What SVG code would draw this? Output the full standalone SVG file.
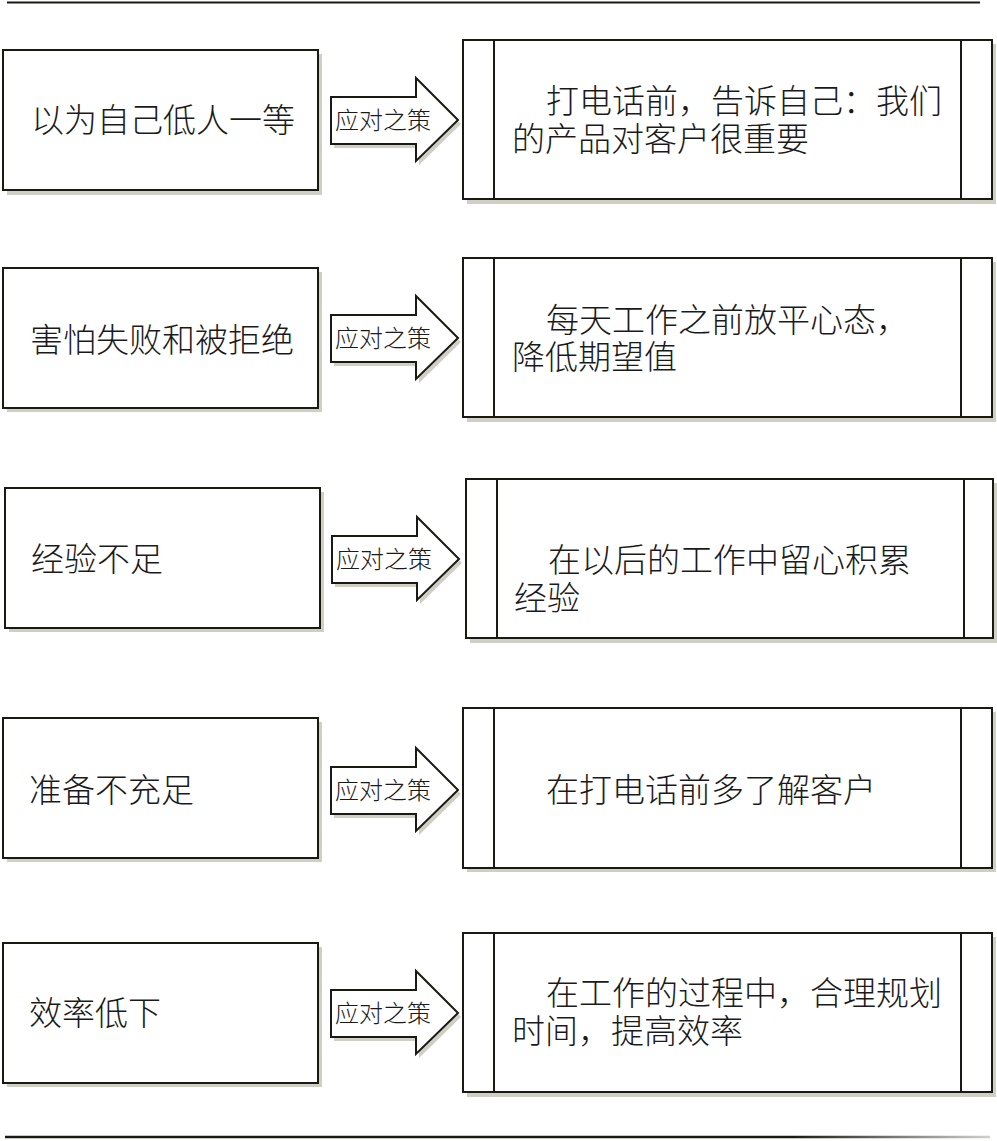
<svg xmlns="http://www.w3.org/2000/svg" width="997" height="1141" viewBox="0 0 997 1141">
<defs>
<linearGradient id="fade" gradientUnits="userSpaceOnUse" x1="5" y1="0" x2="990" y2="0">
<stop offset="0" stop-color="#1a1a12"/>
<stop offset="0.8" stop-color="#1a1a12"/>
<stop offset="1" stop-color="#1a1a12" stop-opacity="0.2"/>
</linearGradient>
<path id="arr" d="M0,0 H85 V-19 L127,23 L85,64 V47 H0 Z"/>
</defs>
<style>
.box{fill:#fff;stroke:#1a1a12;stroke-width:2}
.sh{fill:#cfcfc6}
.ln{stroke:#1a1a12;stroke-width:2;fill:none}
.t{font-family:"Liberation Serif","Noto Sans CJK SC",serif;font-size:33px;font-weight:300;fill:#1a1a1a}
.a{font-family:"Liberation Serif","Noto Sans CJK SC",serif;font-size:24px;font-weight:300;fill:#1a1a1a}
</style>
<rect width="997" height="1141" fill="#fff"/>
<line x1="7" y1="2.5" x2="980" y2="2.5" stroke="#1a1a12" stroke-width="2"/>
<line x1="5" y1="1137" x2="990" y2="1137" stroke="url(#fade)" stroke-width="2.5"/>

<g id="connectors">
<g transform="translate(331,97)"><use href="#arr" x="3" y="4" class="sh"/><use href="#arr" class="box"/><text class="a" x="4" y="32">应对之策</text></g>
<g transform="translate(331,315)"><use href="#arr" x="3" y="4" class="sh"/><use href="#arr" class="box"/><text class="a" x="4" y="32">应对之策</text></g>
<g transform="translate(332,536)"><use href="#arr" x="3" y="4" class="sh"/><use href="#arr" class="box"/><text class="a" x="4" y="32">应对之策</text></g>
<g transform="translate(331,767)"><use href="#arr" x="3" y="4" class="sh"/><use href="#arr" class="box"/><text class="a" x="4" y="32">应对之策</text></g>
<g transform="translate(331,990)"><use href="#arr" x="3" y="4" class="sh"/><use href="#arr" class="box"/><text class="a" x="4" y="32">应对之策</text></g>
</g>

<g id="problem1"><rect class="sh" x="7" y="54" width="315" height="141"/><rect class="box" x="3" y="50" width="315" height="140"/><text class="t" x="31" y="132">以为自己低人一等</text></g>
<g id="problem2"><rect class="sh" x="7" y="272" width="315" height="140"/><rect class="box" x="3" y="268" width="315" height="140"/><text class="t" x="30" y="352">害怕失败和被拒绝</text></g>
<g id="problem3"><rect class="sh" x="9" y="492" width="315" height="140"/><rect class="box" x="5" y="488" width="315" height="140"/><text class="t" x="31" y="571">经验不足</text></g>
<g id="problem4"><rect class="sh" x="7" y="722" width="315" height="140"/><rect class="box" x="3" y="718" width="315" height="140"/><text class="t" x="29" y="802">准备不充足</text></g>
<g id="problem5"><rect class="sh" x="7" y="947" width="315" height="140"/><rect class="box" x="3" y="943" width="315" height="140"/><text class="t" x="29" y="1025">效率低下</text></g>

<g id="solution1"><rect class="sh" x="467" y="44" width="529" height="160"/><rect class="box" x="463" y="40" width="529" height="159"/><line class="ln" x1="494" y1="40" x2="494" y2="199"/><line class="ln" x1="961" y1="40" x2="961" y2="199"/>
<text class="t" x="546" y="113">打电话前，告诉自己：我们</text><text class="t" x="512" y="151">的产品对客户很重要</text></g>
<g id="solution2"><rect class="sh" x="467" y="262" width="529" height="160"/><rect class="box" x="463" y="258" width="529" height="159"/><line class="ln" x1="494" y1="258" x2="494" y2="417"/><line class="ln" x1="961" y1="258" x2="961" y2="417"/>
<text class="t" x="546" y="332">每天工作之前放平心态，</text><text class="t" x="512" y="369">降低期望值</text></g>
<g id="solution3"><rect class="sh" x="470" y="483" width="528" height="160"/><rect class="box" x="466" y="479" width="527" height="159"/><line class="ln" x1="497" y1="479" x2="497" y2="638"/><line class="ln" x1="964" y1="479" x2="964" y2="638"/>
<text class="t" x="548" y="572">在以后的工作中留心积累</text><text class="t" x="514" y="610">经验</text></g>
<g id="solution4"><rect class="sh" x="467" y="712" width="529" height="160"/><rect class="box" x="463" y="708" width="529" height="160"/><line class="ln" x1="494" y1="708" x2="494" y2="868"/><line class="ln" x1="961" y1="708" x2="961" y2="868"/>
<text class="t" x="546" y="802">在打电话前多了解客户</text></g>
<g id="solution5"><rect class="sh" x="467" y="937" width="529" height="160"/><rect class="box" x="463" y="933" width="529" height="159"/><line class="ln" x1="494" y1="933" x2="494" y2="1092"/><line class="ln" x1="961" y1="933" x2="961" y2="1092"/>
<text class="t" x="546" y="1005">在工作的过程中，合理规划</text><text class="t" x="512" y="1043">时间，提高效率</text></g>
</svg>
